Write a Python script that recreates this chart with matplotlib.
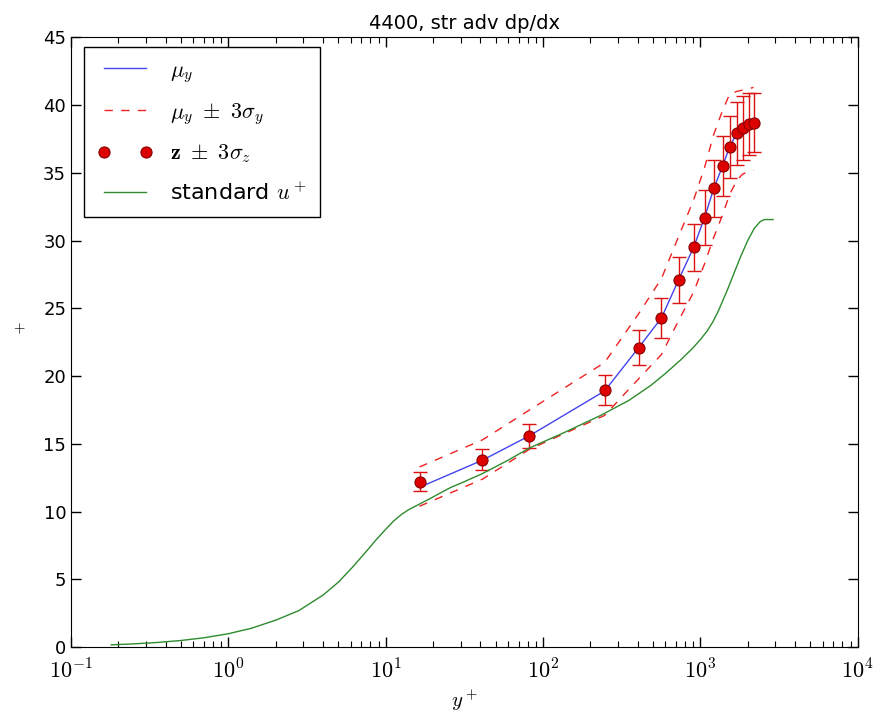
import matplotlib
matplotlib.use("Agg")
import matplotlib.pyplot as plt
import matplotlib.ticker as ticker
import numpy as np

plt.rcParams['mathtext.fontset'] = 'cm'
plt.rcParams['font.family'] = 'DejaVu Sans'

# wall-normal positions of the samples
y_plus = [16.4, 41.2, 81.9, 246, 405, 566, 727, 906, 1064, 1213, 1384, 1534, 1698, 1853, 2027, 2178]
# model mean and +/- 3 sigma band
mu_y = [11.8, 13.8, 15.6, 18.9, 22.1, 24.3, 27.1, 29.5, 31.7, 33.8, 35.5, 36.9, 37.9, 38.3, 38.6, 38.7]
mu_upper = [13.3, 15.3, 17.5, 21.0, 24.6, 27.2, 30.3, 33.0, 35.4, 37.8, 39.6, 40.8, 41.0, 41.1, 41.2, 41.3]
mu_lower = [10.4, 12.4, 14.6, 17.1, 19.8, 21.6, 24.1, 26.2, 28.3, 30.2, 31.9, 33.4, 34.4, 34.9, 35.1, 35.2]
# measured values and 3 sigma errors
z = [12.2, 13.85, 15.6, 18.95, 22.1, 24.3, 27.1, 29.5, 31.7, 33.85, 35.5, 36.9, 37.9, 38.3, 38.6, 38.7]
z_err = [0.7, 0.75, 0.9, 1.1, 1.3, 1.45, 1.7, 1.75, 2.0, 2.1, 2.2, 2.3, 2.35, 2.35, 2.3, 2.2]

# standard law of the wall profile
std_y = [0.18, 0.25, 0.35, 0.5, 0.7, 1.0, 1.4, 2.0, 2.8, 4.0, 5.0, 6.2, 7.5, 8.8, 10, 11.2, 12.6, 14, 16,
         19, 22, 26, 30, 41, 60, 82, 140, 232, 350, 482, 600, 750, 900, 1000, 1100, 1200, 1300, 1490,
         1650, 1800, 2000, 2200, 2400, 2550, 2900]
std_u = [0.18, 0.25, 0.35, 0.5, 0.7, 1.0, 1.4, 2.0, 2.7, 3.85, 4.8, 5.95, 7.05, 8.0, 8.7, 9.3, 9.8, 10.15,
         10.5, 10.95, 11.35, 11.8, 12.1, 12.8, 13.8, 14.7, 15.9, 17.1, 18.2, 19.3, 20.2, 21.2, 22.1, 22.7,
         23.3, 24.0, 24.8, 26.4, 27.7, 28.8, 30.0, 30.9, 31.4, 31.55, 31.55]

fig = plt.figure(figsize=(8.77, 7.16), dpi=100)
ax = fig.add_axes([0.081, 0.096, 0.897, 0.852])

ax.plot(y_plus, mu_y, color='#4444ee', lw=1.0, label=r'$\mu_y$')
ax.plot(y_plus, mu_upper, '--', color='#ee2222', lw=1.0, dashes=(6, 6), label=r'$\mu_y\ \pm\ 3\sigma_y$')
ax.plot(y_plus, mu_lower, '--', color='#ee2222', lw=1.0, dashes=(6, 6))
ax.errorbar(y_plus, z, yerr=z_err, fmt='none', ecolor='#dd1111', elinewidth=1.0, capsize=5, capthick=1.0)
ax.plot(y_plus, z, 'o', color='#dd0000', markeredgecolor='#880000', markeredgewidth=0.8, markersize=8,
        linestyle='none', label=r'$\mathbf{z}\ \pm\ 3\sigma_z$')
ax.plot(std_y, std_u, color='#2e8b2e', lw=1.0, label=r'standard $u^+$')

ax.set_xscale('log')
ax.set_xlim(0.1, 1e4)
ax.set_ylim(0, 45)
ax.set_yticks(np.arange(0, 46, 5))
ax.xaxis.set_major_formatter(ticker.FuncFormatter(lambda v, p: r'$10^{%d}$' % round(np.log10(v))))

ax.tick_params(which='both', direction='in', top=True, right=True, labelsize=13)
ax.tick_params(axis='x', labelsize=16, pad=8)
ax.tick_params(which='major', length=7, width=1)
ax.tick_params(which='minor', length=4, width=0.8)

ax.set_title('4400, str adv dp/dx', fontsize=14)
ax.set_xlabel(r'$y^+$', fontsize=15)
ax.set_ylabel(r'$^+$', fontsize=15, rotation=0, labelpad=18)

leg = ax.legend(loc='upper left', numpoints=2, fontsize=16, fancybox=False, framealpha=1,
                edgecolor='black', handlelength=2.5, borderpad=0.6, labelspacing=0.72,
                bbox_to_anchor=(0.002, 1.003))
leg.get_frame().set_linewidth(1.0)

fig.savefig('out.png', dpi=100)
